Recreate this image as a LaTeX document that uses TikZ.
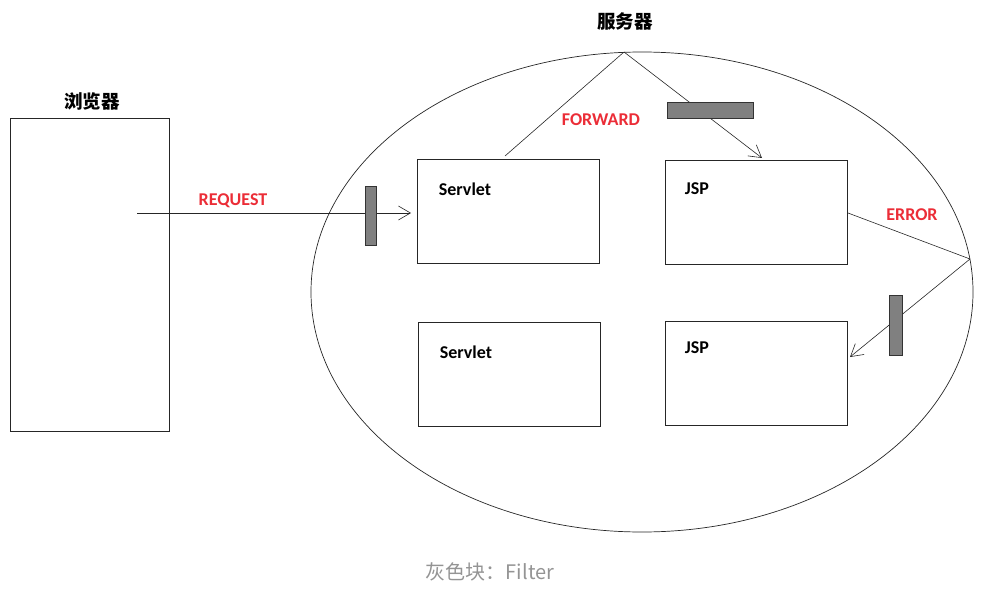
\documentclass[tikz,border=0pt]{standalone}
\usepackage{fontspec}
\setmainfont{Carlito}
\newfontfamily\cjk{Noto Sans CJK SC}
\usetikzlibrary{arrows.meta}
\begin{document}
\begin{tikzpicture}[x=1pt,y=-1pt,
  box/.style={draw=black!85,line width=0.8pt},
  filt/.style={draw=black!80,fill=black!50,line width=0.8pt},
  lbl/.style={font=\bfseries\fontsize{18}{20}\selectfont,inner sep=0pt},
  red/.style={font=\bfseries\fontsize{18}{20}\selectfont,text={rgb,255:red,235;green,45;blue,55},inner sep=0pt},
  zh/.style={font=\cjk\bfseries\fontsize{18.5}{20}\selectfont,inner sep=0pt},
  conn/.style={draw=black!85,line width=0.6pt},
  arr/.style={conn,-{Straight Barb[length=12pt,width=14pt,line width=0.6pt]}}]
\useasboundingbox (0,0) rectangle (988,594);
% browser
\draw[box] (10,118) rectangle (169,431);
\node[zh] (bl) at (92,101) {浏览器};
% server ellipse
\draw[box,line width=0.7pt] (642,292) ellipse [x radius=331, y radius=240];
\node[zh] (sl) at (625,21) {服务器};
\coordinate (top) at (624,52);
\coordinate (rt) at (970,259);
% boxes
\node[box,minimum width=182pt,minimum height=104pt,inner sep=0pt] (s1) at (508,211) {};
\node[box,minimum width=182pt,minimum height=104pt,inner sep=0pt] (j1) at (756,212) {};
\node[box,minimum width=182pt,minimum height=104pt,inner sep=0pt] (s2) at (509,374) {};
\node[box,minimum width=182pt,minimum height=104pt,inner sep=0pt] (j2) at (756,373) {};
\node[lbl] at (465,189) {Servlet};
\node[lbl] at (697,189) {JSP};
\node[lbl] at (466,352) {Servlet};
\node[lbl] at (697,348) {JSP};
% request
\coordinate (rq) at (137,213);
\draw[arr] (rq) -- (411,213);
\node[red] at (233,201) {REQUEST};
\draw[filt] (365,186) rectangle (376,245);
% forward
\draw[conn] (505,156) -- (top);
\draw[arr] (top) -- (762,158);
\node[red] at (601,120) {FORWARD};
\draw[filt] (667,102) rectangle (753,118);
% error
\draw[conn] (848,213) -- (rt);
\draw[arr] (rt) -- (850,357);
\node[red] at (912,215) {ERROR};
\draw[filt] (889,295) rectangle (902,355);
% caption
\node[font=\cjk\fontsize{20}{22}\selectfont,text=black!42,inner sep=0pt] at (490,572) {灰色块：Filter};
\end{tikzpicture}
\end{document}
